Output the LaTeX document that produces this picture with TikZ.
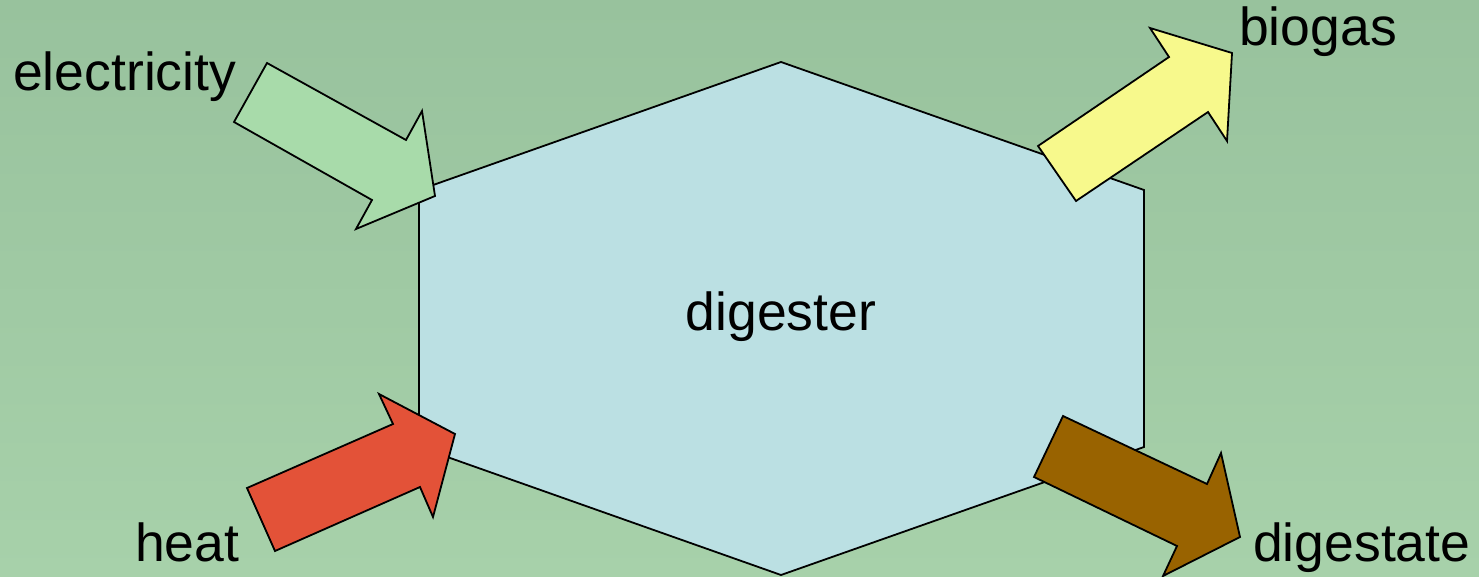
\documentclass[tikz,border=0pt]{standalone}
\usepackage{fontspec}
\setmainfont{Liberation Sans}
\definecolor{bgtop}{RGB}{152,194,157}
\definecolor{bgbot}{RGB}{167,209,170}
\definecolor{hexfill}{RGB}{187,224,227}
\definecolor{elecfill}{RGB}{168,219,170}
\definecolor{heatfill}{RGB}{227,82,56}
\definecolor{biofill}{RGB}{247,249,140}
\definecolor{digfill}{RGB}{153,99,0}
\tikzset{
  outline/.style={draw=black, line width=1.8pt, line join=miter},
  lbl/.style={inner sep=0pt, anchor=base west, font=\fontsize{53.5}{62}\selectfont},
}
\begin{document}
\begin{tikzpicture}[x=1pt,y=-1pt]
\useasboundingbox (0,0) rectangle (1479,577);
\shade[top color=bgtop, bottom color=bgbot] (0,0) rectangle (1479,577);
% hexagon
\draw[outline, fill=hexfill] (781,62) -- (1144,190) -- (1144,447) -- (781,575) -- (419,447) -- (419,190) -- cycle;
\node[inner sep=0pt, anchor=base, font=\fontsize{53.5}{62}\selectfont] (dig) at (781,330) {digester};
% electricity arrow
\draw[outline, fill=elecfill] (267,63) -- (406,140) -- (422,111) -- (435,196) -- (356,229) -- (372,200) -- (234,122) -- cycle;
% heat arrow
\draw[outline, fill=heatfill] (247,488) -- (393,424) -- (379,394) -- (455,434) -- (433,517) -- (420,487) -- (275,551) -- cycle;
% biogas arrow
\draw[outline, fill=biofill] (1038,146) -- (1169,57) -- (1150,28) -- (1232,53) -- (1227,141) -- (1208,112) -- (1076,201) -- cycle;
% digestate arrow
\draw[outline, fill=digfill] (1063,416) -- (1207,484) -- (1221,453) -- (1240,537) -- (1163,576) -- (1177,546) -- (1034,477) -- cycle;
% labels
\node[lbl] (elec) at (13,91) {electricity};
\node[lbl] (bio) at (1239,46) {biogas};
\node[lbl] (heat) at (135,561) {heat};
\node[lbl] (dgs) at (1253,561) {digestate};
\end{tikzpicture}
\end{document}
